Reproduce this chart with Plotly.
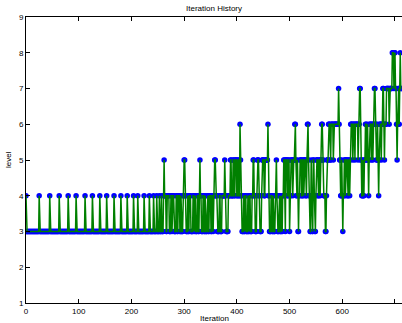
import plotly.graph_objects as go

# Run-length encoded level history: (level, run length)
run_levels = [
    4,3,4,3,4,3,4,3,4,3,4,3,4,3,4,3,4,3,4,3,4,3,4,3,4,3,4,3,4,3,4,3,4,3,4,3,4,3,4,3,4,3,4,5,
    4,3,4,3,4,3,4,3,4,3,4,3,4,3,4,5,
    4,3,4,3,4,3,4,3,4,3,4,3,4,5,
    4,3,4,3,4,3,4,3,4,3,4,3,4,5,
    4,3,4,3,4,5,
    4,3,4,
    5,4,5,4,5,4,5,4,6,
    5,4,3,4,3,4,3,4,3,4,3,4,
    5,4,3,4,5,4,3,4,5,4,5,6,
    4,3,4,3,4,3,4,5,4,3,4,3,4,3,4,5,4,3,
    5,4,5,3,
    4,5,4,5,6,
    5,4,5,3,
    4,5,4,5,4,5,4,5,6,5,
    4,3,5,4,3,5,4,3,4,5,4,5,
    4,5,6,
    5,4,3,
    4,5,6,5,6,5,6,7,
    6,5,4,5,4,3,
    4,5,4,5,4,5,4,5,
    6,5,6,5,6,5,6,7,
    5,4,5,4,5,6,5,6,5,4,
    5,6,5,6,5,6,7,
    6,5,6,5,4,
    5,6,5,6,7,
    6,5,6,7,6,7,8,7,8,7,6,5,6,7,6,7,8,7,
]
run_lengths = [
    1,24,1,19,1,17,1,16,1,14,1,16,1,13,1,13,1,12,1,13,1,12,1,11,1,11,1,7,1,11,1,9,1,7,1,5,1,4,1,3,1,3,1,1,
    3,2,4,3,2,1,3,4,2,2,3,2,1,3,2,2,
    2,3,1,2,3,4,2,1,2,3,2,2,1,1,
    2,3,2,2,1,3,2,2,3,2,2,1,2,2,
    3,4,2,3,5,1,
    2,4,4,
    2,3,2,2,3,2,2,2,1,
    1,2,3,1,2,2,3,1,2,2,3,2,
    2,2,3,1,3,2,3,1,4,2,5,1,
    2,3,2,2,1,3,2,1,1,3,2,2,1,2,2,2,1,1,
    3,2,2,1,
    2,3,1,3,2,
    1,2,1,2,
    2,3,2,2,1,3,2,1,2,1,
    2,2,1,1,2,2,1,2,1,3,2,2,
    1,2,2,
    2,3,2,
    1,3,3,2,4,1,9,1,
    1,2,2,1,1,1,
    2,2,1,3,2,2,1,1,
    4,1,3,1,5,1,2,2,
    2,2,1,2,2,2,2,1,1,1,
    1,3,1,2,1,2,2,
    2,2,1,1,1,
    1,3,1,2,2,
    1,1,3,5,1,5,3,1,2,2,1,1,1,2,1,1,1,2,
]

levels = []
for lv, n in zip(run_levels, run_lengths):
    levels.extend([lv] * n)
iterations = list(range(len(levels)))

x_ticks = [0, 100, 200, 300, 400, 500, 600, 700]
y_ticks = [1, 2, 3, 4, 5, 6, 7, 8, 9]

FAM = "Liberation Sans, Arial, sans-serif"
font = dict(family=FAM, size=8, color="black")

fig = go.Figure()
fig.add_trace(go.Scatter(x=iterations, y=levels, mode="markers",
                         marker=dict(color="#0000ff", size=5.5, line=dict(width=0)),
                         showlegend=False, hoverinfo="skip"))
fig.add_trace(go.Scatter(x=iterations, y=levels, mode="lines",
                         line=dict(color="#008000", width=1.5),
                         showlegend=False, hoverinfo="skip"))

fig.update_layout(
    width=402, height=323,
    margin=dict(l=26, r=0, t=17, b=20, autoexpand=False),
    paper_bgcolor="white", plot_bgcolor="white",
    font=font,
    annotations=[
        dict(text="Iteration History", xref="paper", yref="paper", x=0.5, y=1,
             yshift=9, showarrow=False, xanchor="center", yanchor="middle",
             font=dict(size=8, family=FAM, color="black")),
        dict(text="Iteration", xref="paper", yref="paper", x=0.5, y=0,
             yshift=-15, showarrow=False, xanchor="center", yanchor="middle",
             font=dict(size=8, family=FAM, color="black")),
        dict(text="level", xref="paper", yref="paper", x=0, y=0.5,
             xshift=-18, showarrow=False, xanchor="center", yanchor="middle",
             textangle=-90, font=dict(size=8, family=FAM, color="black")),
    ],
)
fig.update_xaxes(range=[0, 713.3], tickvals=x_ticks, ticktext=[str(v) for v in x_ticks],
                 ticks="inside", ticklen=4, tickcolor="black", showgrid=False, zeroline=False,
                 showline=True, linecolor="black", linewidth=1, mirror="ticks",
                 automargin=False, tickfont=font)
fig.update_yaxes(range=[1, 9], tickvals=y_ticks, ticktext=[str(v) for v in y_ticks],
                 ticks="inside", ticklen=4, tickcolor="black", showgrid=False, zeroline=False,
                 showline=True, linecolor="black", linewidth=1, mirror=False,
                 automargin=False, tickfont=font)

fig.write_html("out.html",
               config={"displayModeBar": False, "staticPlot": True},
               post_script="document.body.style.margin='0';document.body.style.padding='0';"
                           "document.body.style.overflow='hidden';")
